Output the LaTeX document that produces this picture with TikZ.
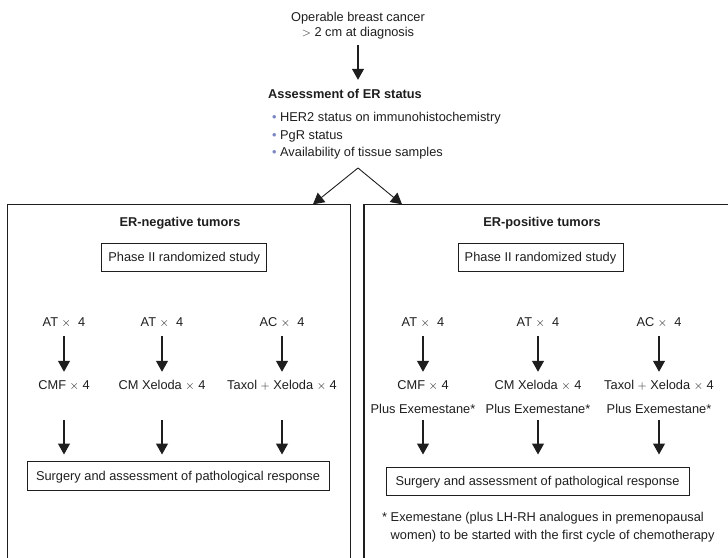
\documentclass[tikz,border=0pt]{standalone}
\usepackage{fontspec}
\setmainfont{Liberation Sans}
\usetikzlibrary{arrows.meta}
\definecolor{bulcol}{HTML}{7A86C2}
\definecolor{ink}{HTML}{1E1E1E}
\tikzset{
  tekst/.style={text=ink, font=\fontsize{12.8}{15}\selectfont},
  linje/.style={tekst, text height=10pt, text depth=0.8pt},
  fet/.style={linje, font=\fontsize{12.8}{15}\selectfont\bfseries},
  boks/.style={linje, draw=ink, line width=1pt, minimum height=28pt},
  pil/.style={-{Triangle[width=12pt,length=11pt]}, draw=ink, line width=1.2pt},
  ramme/.style={draw=ink, line width=1.1pt},
}
\begin{document}
\begin{tikzpicture}[x=1pt,y=-1pt,every node/.style={tekst}]
  \useasboundingbox (0,0) rectangle (728,557);
  \clip (0,0) rectangle (728,557);

  % Diagnose
  \node[align=center] (top) at (358,25.8) {Operable breast cancer\\$>$ 2 cm at diagnosis};
  \node[fet, anchor=west, inner sep=0pt] (assess) at (268,94) {Assessment of ER status};
  \draw[pil, shorten <=2.4pt, shorten >=8.6pt] (top.south) -- (top.south |- assess.north);

  % Kriterier
  \foreach \i/\yy/\txt in {1/117/HER2 status on immunohistochemistry,
                           2/134.5/PgR status,
                           3/152/Availability of tissue samples} {
    \node[linje, anchor=west, inner sep=0pt] (krit\i) at (272,\yy)
      {\textcolor{bulcol}{\textbullet}\hspace{3.5pt}\txt};
  }

  % Forgrening
  \coordinate (gren) at (358,168);
  \coordinate (neginn) at (313,204.3);
  \coordinate (posinn) at (402,204.3);
  \draw[pil, line width=0.9pt] (gren) -- (neginn);
  \draw[pil, line width=0.9pt] (gren) -- (posinn);

  % Rammer
  \draw[ramme] (7.6,570) |- (350.7,204.3) -- (350.7,570);
  \draw[ramme] (364,570) |- (740,204.3);

  % ER-negative
  \node[fet] (neghead) at (180,222) {ER-negative tumors};
  \node[boks, minimum width=165pt] (negfase) at (184.2,257) {Phase II randomized study};
  \foreach \i/\xx/\kur/\kurb in {1/64/AT/CMF $\times$ 4,
                                 2/162/AT/CM Xeloda $\times$ 4,
                                 3/282/AC/Taxol $+$ Xeloda $\times$ 4} {
    \node[linje] (negA\i) at (\xx,322) {\kur\ $\times$\ \ 4};
    \node[linje] (negB\i) at (\xx,385) {\kurb};
    \draw[pil, shorten <=5.3pt, shorten >=4.3pt] (negA\i) -- (negB\i);
  }
  \node[boks, minimum width=302pt, minimum height=29pt] (negkir) at (178,475.5)
    {Surgery and assessment of pathological response};
  \foreach \i in {1,2,3}
    \draw[pil, shorten <=26.3pt, shorten >=6pt] (negB\i) -- (negB\i |- negkir.north);

  % ER-positive
  \node[fet] (poshead) at (542,222) {ER-positive tumors};
  \node[boks, minimum width=165pt] (posfase) at (540.5,257) {Phase II randomized study};
  \foreach \i/\xx/\kur/\kurb in {1/423/AT/CMF $\times$ 4,
                                 2/538/AT/CM Xeloda $\times$ 4,
                                 3/659/AC/Taxol $+$ Xeloda $\times$ 4} {
    \node[linje] (posA\i) at (\xx,322) {\kur\ $\times$\ \ 4};
    \node[linje] (posB\i) at (\xx,385) {\kurb};
    \node[linje] (posC\i) at (\xx,409) {Plus Exemestane*};
    \draw[pil, shorten <=5.3pt, shorten >=4.3pt] (posA\i) -- (posB\i);
  }
  \node[boks, minimum width=303pt] (poskir) at (537.5,481)
    {Surgery and assessment of pathological response};
  \foreach \i in {1,2,3}
    \draw[pil, shorten <=2.3pt, shorten >=12pt] (posC\i) -- (posC\i |- poskir.north);

  % Fotnote
  \node[anchor=west, align=left, inner sep=0pt, font=\fontsize{12.8}{18}\selectfont] (note) at (382,527)
    {* Exemestane (plus LH-RH analogues in premenopausal\\\phantom{*}\ women) to be started with the first cycle of chemotherapy};
\end{tikzpicture}
\end{document}
